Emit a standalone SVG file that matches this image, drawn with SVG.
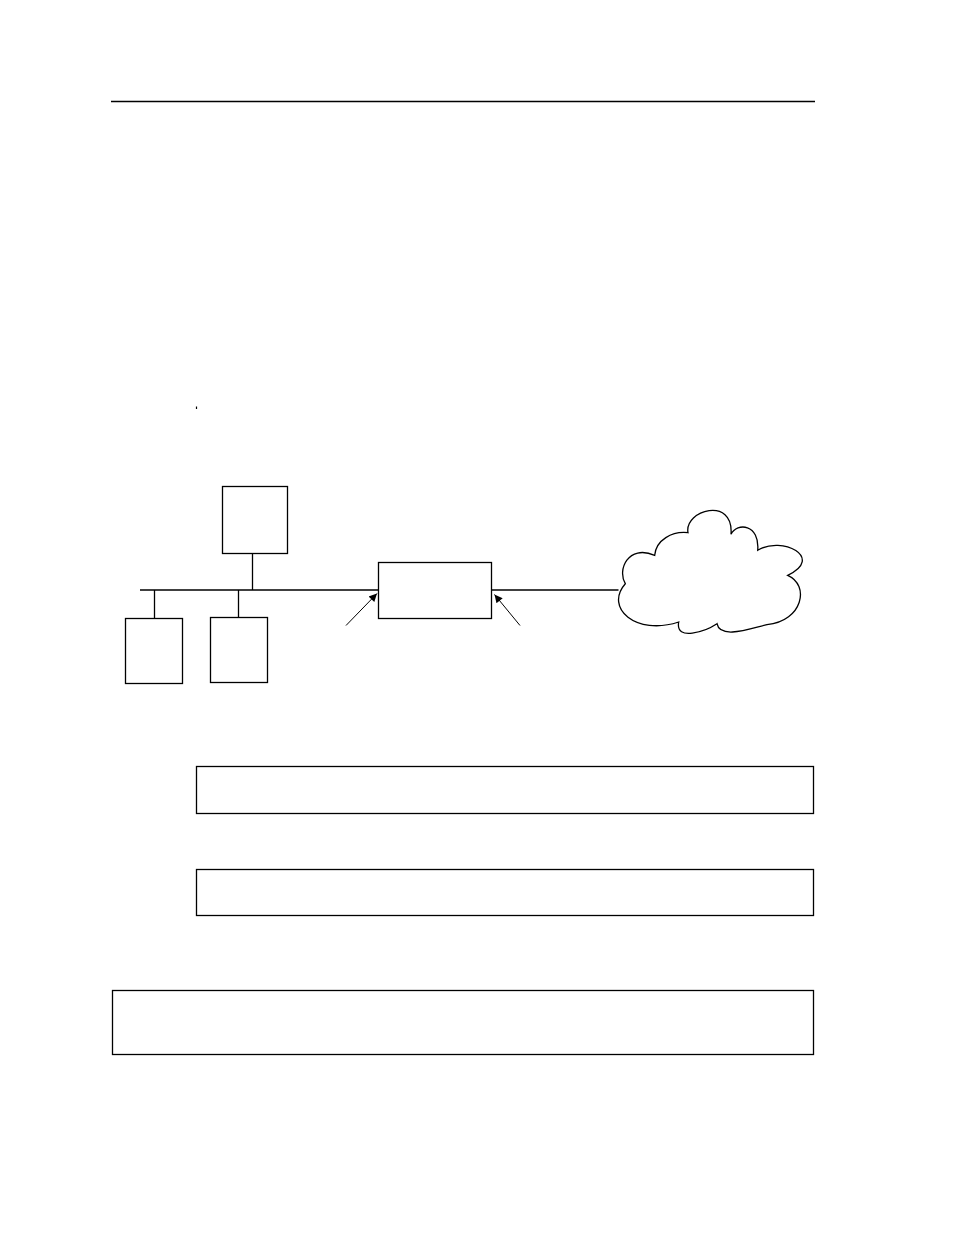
<svg xmlns="http://www.w3.org/2000/svg" width="954" height="1235" viewBox="0 0 954 1235">
<style>
.box{fill:#fff;stroke:#000;stroke-width:1.3}
.ln{stroke:#000;stroke-width:1.3;fill:none}
.arr{stroke:#000;stroke-width:1;fill:none;marker-end:url(#ah)}
</style>
<defs>
<marker id="ah" viewBox="0 0 10 10" refX="10" refY="5" markerWidth="10" markerHeight="8" markerUnits="userSpaceOnUse" orient="auto">
<path d="M0,0 L10,5 L0,10 z" fill="#000"/>
</marker>
</defs>
<rect width="954" height="1235" fill="#fff"/>
<line x1="111" y1="101.5" x2="815" y2="101.5" stroke="#000" stroke-width="1.3"/>
<line x1="196.5" y1="406.5" x2="196.5" y2="409" stroke="#000" stroke-width="1.2"/>
<g id="connectors">
<line class="ln" x1="140" y1="590" x2="379" y2="590"/>
<line class="ln" x1="252.5" y1="553" x2="252.5" y2="590"/>
<line class="ln" x1="154.5" y1="590" x2="154.5" y2="618.5"/>
<line class="ln" x1="238.5" y1="590" x2="238.5" y2="617.5"/>
<line class="ln" x1="491.5" y1="590" x2="618.5" y2="590"/>
<line class="arr" x1="346" y1="625.5" x2="377" y2="593.5"/>
<line class="arr" x1="520" y1="625.5" x2="494.5" y2="594.5"/>
</g>
<g id="host-top"><rect class="box" x="222.5" y="486.5" width="65" height="67"/></g>
<g id="host-left"><rect class="box" x="125.5" y="618.5" width="57" height="65"/></g>
<g id="host-mid"><rect class="box" x="210.5" y="617.5" width="57" height="65"/></g>
<g id="router"><rect class="box" x="378.5" y="562.5" width="113" height="56"/></g>
<g id="cloud">
<path class="ln" stroke-width="1" d="M625.3,583.7 C617,570 628,544 654.7,555.3 C656,540 672,531 688,532.7 C684,510 734,496 731,534.3 C737,522 760,524 757.7,550.3 C782,535 825,558 787.7,575.3 C810,585 803,621 767,624.7 C752,628 720,640 717,623.7 C706,631 675,642 678.7,622 C636,636 604,608 625.3,583.7 Z"/>
</g>
<g id="panel1"><rect class="box" x="196.5" y="766.5" width="617" height="47"/></g>
<g id="panel2"><rect class="box" x="196.5" y="869.5" width="617" height="46"/></g>
<g id="panel3"><rect class="box" x="112.5" y="990.5" width="701" height="64"/></g>
</svg>
